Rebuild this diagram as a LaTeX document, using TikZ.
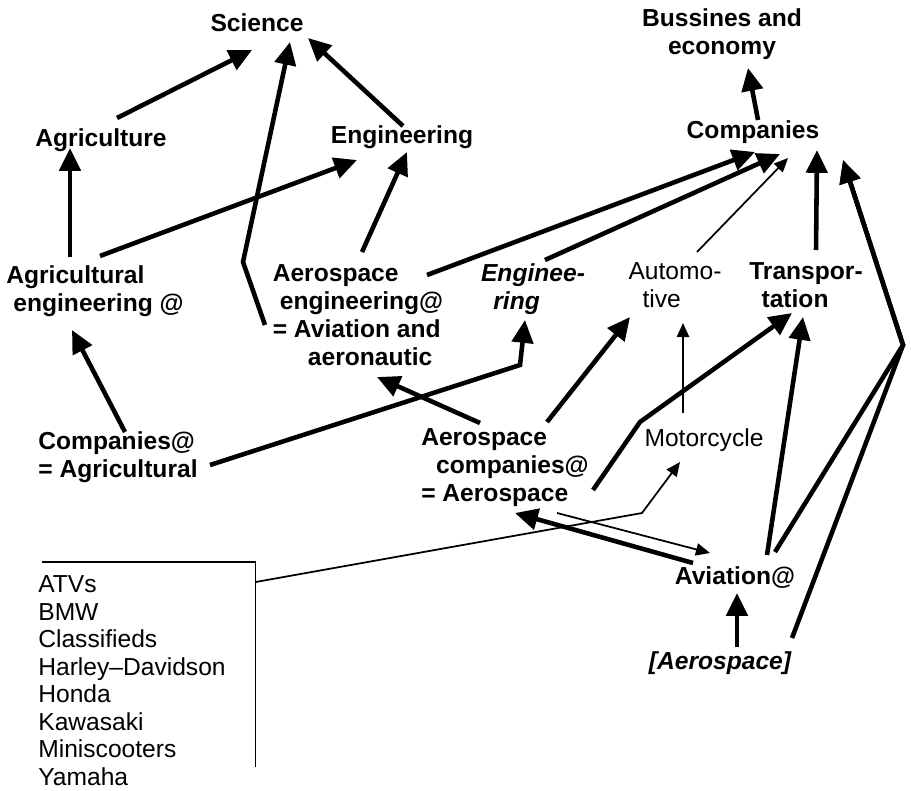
\documentclass[tikz,border=0pt]{standalone}
\usepackage{fontspec}
\setmainfont{Liberation Sans}
\usetikzlibrary{arrows.meta,calc}

\tikzset{
  topic/.style={font=\fontsize{14}{15.9}\selectfont\bfseries, inner sep=1pt},
  topicit/.style={topic, font=\fontsize{14}{15.9}\selectfont\bfseries\itshape},
  plain/.style={font=\fontsize{14}{15.9}\selectfont, inner sep=1pt},
  link/.style={line width=2.6pt, -{Triangle[length=13pt,width=12pt]}},
  weak/.style={line width=1pt, -{Triangle[length=8pt,width=7pt]}},
}

\begin{document}
\begin{tikzpicture}[x=0.02cm, y=-0.02cm]
    \useasboundingbox (0,0) rectangle (911,790);

    \node[topic] (sci) at (257, 23) {Science};
    \node[topic, align=center] (bus) at (722, 34) {Bussines and\\economy};
    \node[topic] (agr) at (101, 140) {Agriculture};
    \node[topic] (eng) at (402, 137) {Engineering};
    \node[topic] (comp) at (753, 132) {Companies};

    \node[topic, align=left] (agreng) at (95, 291) {Agricultural\\\hspace*{4pt}engineering @};
    \node[topic, align=left] (aeroeng) at (358, 315) {Aerospace\\\hspace*{4pt}engineering@\\= Aviation and\\\hspace*{20pt}aeronautic};
    \node[topicit, align=left] (engit) at (533, 289) {Enginee-\\\hspace*{7pt}ring};
    \node[plain, align=left] (auto) at (675, 285) {Automo-\\\hspace*{8pt}tive};
    \node[topic, align=left] (trans) at (806, 285) {Transpor-\\\hspace*{7pt}tation};

    \node[topic, align=left] (compagr) at (118, 457) {Companies@\\= Agricultural};
    \node[topic, align=left] (aerocomp) at (505, 468) {Aerospace\\\hspace*{8.5pt}companies@\\= Aerospace};
    \node[plain] (moto) at (704, 440) {Motorcycle};
    \node[topic] (avi) at (735, 578) {Aviation@};
    \node[topicit] (aer) at (720, 663) {[Aerospace]};
    \node[plain, align=left, text width=4.34cm, inner xsep=0pt, inner ysep=7.5pt,
          anchor=north west, font=\fontsize{14}{15.7}\selectfont] (list) at (38, 562)
          {ATVs\\BMW\\Classifieds\\Harley–Davidson\\Honda\\Kawasaki\\Miniscooters\\Yamaha};

    \coordinate (rc) at (903, 345);

    \draw[link] ($(agr)+(16,-22)$) -- ($(sci)+(-5,27)$);
    \draw[link] ($(eng)+(1,-11)$) -- ($(sci)+(51,15)$);
    \draw[link] ($(aeroeng)+(-93,10)$) -- ($(aeroeng)+(-115,-53)$) -- ($(sci)+(33,19)$);
    \draw[link] ($(agreng)+(-25,-34)$) -- ($(agr)+(-31,8)$);
    \draw[link] ($(agreng)+(5,-35)$) -- ($(eng)+(-45,23)$);
    \draw[link] ($(aeroeng)+(4,-63)$) -- ($(eng)+(5,15)$);
    \draw[link] ($(aeroeng)+(69,-40)$) -- ($(comp)+(2,20)$);
    \draw[link] ($(engit)+(12,-29)$) -- ($(comp)+(27,22)$);
    \draw[weak] ($(auto)+(22,-33)$) -- ($(comp)+(35,26)$);
    \draw[link] ($(trans)+(10,-35)$) -- ($(comp)+(64,18)$);
    \draw[link] ($(comp)+(5,-12)$) -- ($(bus)+(26,34)$);
    \draw[link] ($(avi)+(40,-26)$) -- (rc) -- ($(comp)+(90,28)$);
    \draw[link] ($(aer)+(72,-25)$) -- (rc) -- ($(comp)+(90,28)$);
    \draw[link] ($(avi)+(32,-23)$) -- ($(trans)+(-3,32)$);
    \draw[link] ($(aer)+(17,-16)$) -- ($(avi)+(2,15)$);
    \draw[link] ($(avi)+(-42,-15)$) -- ($(aerocomp)+(10,45)$);
    \draw[weak] ($(aerocomp)+(52,45)$) -- ($(avi)+(-25,-25)$);
    \draw[link] ($(aerocomp)+(42,-46)$) -- ($(auto)+(-45,32)$);
    \draw[link] ($(aerocomp)+(88,22)$) -- ($(aerocomp)+(135,-46)$) -- ($(trans)+(-14,28)$);
    \draw[weak] ($(moto)+(-21,-27)$) -- ($(auto)+(8,38)$);
    \draw[link] ($(compagr)+(7,-25)$) -- ($(agreng)+(-23,39)$);
    \draw[link] ($(compagr)+(92,8)$) -- ($(engit)+(-13,76)$) -- ($(engit)+(-8,31)$);
    \draw[link] ($(aerocomp)+(-25,-45)$) -- ($(aeroeng)+(19,62)$);

    \draw[line width=0.8pt] ([xshift=0.08cm]list.north west) -- (list.north east) -- ($(list.north east)+(0,205)$);
    \draw[weak] ($(list.north east)+(0,20)$) -- ($(moto)+(-62,73)$) -- ($(moto)+(-24,22)$);
\end{tikzpicture}
\end{document}
